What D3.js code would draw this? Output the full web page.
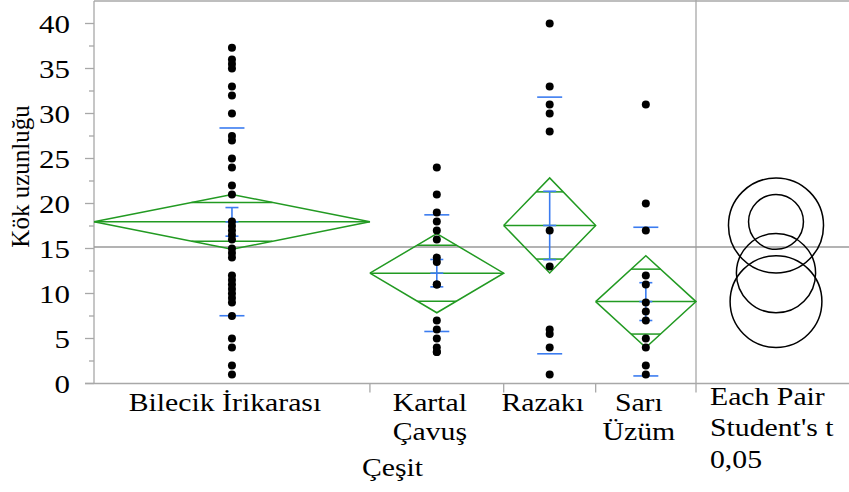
<!DOCTYPE html>
<html>
<head>
<meta charset="utf-8">
<script src="https://cdn.jsdelivr.net/npm/d3@7"></script>
<style>
  body { margin: 0; background: #fff; }
  svg { display: block; }
</style>
</head>
<body>
<svg id="chart" width="849" height="492" font-family="'Liberation Serif', 'Times New Roman', Times, 'DejaVu Serif', serif"></svg>
<script>
// Root length (Kök uzunluğu) by grape variety (Çeşit)
const categories = ["Bilecik İrikarası", "Kartal Çavuş", "Razakı", "Sarı Üzüm"];
const categoryLines = [["Bilecik İrikarası"], ["Kartal", "Çavuş"], ["Razakı"], ["Sarı", "Üzüm"]];
const groupN = [33, 16, 11, 12];

// Observations per variety
const bilecikValues = [37.3, 36, 35.5, 35, 33, 32, 30, 27.5, 27, 25, 24, 22, 21, 18, 17.5, 17, 16.5,
                       16, 15, 14.5, 14, 12, 11.5, 11, 10.5, 10, 9.5, 9, 7.5, 5, 4, 2, 1];
const kartalValues  = [24, 21, 19, 18, 17, 16, 14, 13.5, 11, 11, 7, 6, 5, 4, 3.5, 3.5];
const razakiValues  = [40, 33, 31, 30, 28, 17, 13, 6, 5.5, 4, 1];
const sariValues    = [31, 20, 17, 12, 11, 9, 8, 7, 5, 4, 2, 1];
const groupValues = [bilecikValues, kartalValues, razakiValues, sariValues];

// Group summaries (means diamonds, std error bars, std dev lines)
const groupMeans  = [17.96, 12.26, 17.56, 9.1];
const groupStdDev = [10.43, 6.48, 14.26, 8.26];
const groupStdErr = [1.59, 1.52, 3.8, 2.1];
const groupCI95   = [3.05, 4.4, 5.28, 5.1];

const yTicks = [0, 5, 10, 15, 20, 25, 30, 35, 40];
const yMinorTicks = [2.5, 7.5, 12.5, 17.5, 22.5, 27.5, 32.5, 37.5];
const compareLabel = ["Each Pair", "Student's t", "0,05"];
const xTitle = "Çeşit";
const yTitle = "Kök uzunluğu";

const svg = d3.select("#chart");
const green = "#229a22", blue = "#3b7cf0", frame = "#a8a8a8", meanGray = "#9a9a9a";
const plotL = 94, plotR = 696, plotT = 1, plotB = 383.5, panelR = 849;
const stretch = 1.19;

const y = d3.scaleLinear().domain([0, 42.5]).range([plotB, plotT]);
const totalN = d3.sum(groupN);
const x = d3.scaleLinear().domain([0, totalN]).range([plotL, plotR]);
const cum = [0];
groupN.forEach(n => cum.push(cum[cum.length - 1] + n));
const groups = categories.map((c, i) => ({
  name: c, i,
  x0: x(cum[i]), x1: x(cum[i + 1]), xc: x((cum[i] + cum[i + 1]) / 2),
  mean: groupMeans[i], sd: groupStdDev[i], se: groupStdErr[i], ci: groupCI95[i],
  values: groupValues[i]
}));
const grandMean = d3.sum(groups, g => g.mean * groupN[g.i]) / totalN;

// frame
const fr = svg.append("g").attr("stroke", frame).attr("stroke-width", 1.3).attr("fill", "none");
fr.append("line").attr("x1", plotL).attr("x2", panelR).attr("y1", plotT).attr("y2", plotT);
fr.append("line").attr("x1", plotL).attr("x2", plotL).attr("y1", plotT).attr("y2", plotB);
fr.append("line").attr("x1", plotR).attr("x2", plotR).attr("y1", 0).attr("y2", plotB + 9);
fr.append("line").attr("x1", 85).attr("x2", panelR).attr("y1", plotB).attr("y2", plotB);
groups.slice(0, -1).forEach(g => {
  fr.append("line").attr("x1", g.x1).attr("x2", g.x1).attr("y1", plotB).attr("y2", plotB + 9);
});

// y axis ticks and labels
const ax = svg.append("g");
yTicks.forEach(t => {
  ax.append("line").attr("x1", 85).attr("x2", plotL).attr("y1", y(t)).attr("y2", y(t))
    .attr("stroke", frame).attr("stroke-width", 1.3);
  ax.append("text")
    .attr("transform", `translate(70,${y(t) + 9}) scale(${stretch},1)`)
    .attr("text-anchor", "end")
    .attr("font-size", 26).text(t);
});
yMinorTicks.forEach(t => {
  ax.append("line").attr("x1", 89).attr("x2", plotL).attr("y1", y(t)).attr("y2", y(t))
    .attr("stroke", frame).attr("stroke-width", 1.3);
});
svg.append("text")
  .attr("transform", `translate(29,${y(23)}) rotate(-90)`)
  .attr("text-anchor", "middle").attr("font-size", 25).text(yTitle);

// grand mean
svg.append("line").attr("x1", plotL).attr("x2", panelR)
  .attr("y1", y(grandMean)).attr("y2", y(grandMean))
  .attr("stroke", meanGray).attr("stroke-width", 1.5);

// means diamonds
const dg = svg.append("g").attr("stroke", green).attr("stroke-width", 1.5).attr("fill", "none");
groups.forEach(g => {
  dg.append("path").attr("d", d3.line()([
    [g.x0, y(g.mean)], [g.xc, y(g.mean + g.ci)], [g.x1, y(g.mean)], [g.xc, y(g.mean - g.ci)], [g.x0, y(g.mean)]
  ]));
  dg.append("line").attr("x1", g.x0).attr("x2", g.x1).attr("y1", y(g.mean)).attr("y2", y(g.mean));
  const h = g.ci / Math.SQRT2;
  const hw = (g.x1 - g.x0) / 2 * (1 - h / g.ci);
  [g.mean + h, g.mean - h].forEach(v => {
    dg.append("line").attr("x1", g.xc - hw).attr("x2", g.xc + hw).attr("y1", y(v)).attr("y2", y(v));
  });
});

// std error bars and std dev lines
const bg = svg.append("g").attr("stroke", blue).attr("stroke-width", 1.6);
groups.forEach(g => {
  bg.append("line").attr("x1", g.xc).attr("x2", g.xc).attr("y1", y(g.mean + g.se)).attr("y2", y(g.mean - g.se));
  [g.mean + g.se, g.mean, g.mean - g.se].forEach(v => {
    bg.append("line").attr("x1", g.xc - 6.5).attr("x2", g.xc + 6.5).attr("y1", y(v)).attr("y2", y(v));
  });
  [g.mean + g.sd, g.mean - g.sd].forEach(v => {
    bg.append("line").attr("x1", g.xc - 12.5).attr("x2", g.xc + 12.5).attr("y1", y(v)).attr("y2", y(v));
  });
});

// observations
const pg = svg.append("g");
groups.forEach(g => {
  pg.selectAll(null).data(g.values).join("circle")
    .attr("cx", g.xc).attr("cy", d => y(d)).attr("r", 4).attr("fill", "#000");
});

// comparison circles
const circleX = 776;
const cg = svg.append("g").attr("fill", "none").attr("stroke", "#000").attr("stroke-width", 1.5);
groups.forEach(g => {
  cg.append("circle").attr("cx", circleX).attr("cy", y(g.mean))
    .attr("r", y(0) - y(g.ci));
});

// category labels
const lineBase = [411, 440];
groups.forEach(g => {
  categoryLines[g.i].forEach((t, k) => {
    svg.append("text")
      .attr("transform", `translate(${g.xc - 7},${lineBase[k]}) scale(${stretch},1)`)
      .attr("text-anchor", "middle").attr("font-size", 25).text(t);
  });
});
svg.append("text").attr("transform", `translate(362,476) scale(${stretch},1)`)
  .attr("font-size", 25).text(xTitle);
const cmpBase = [405, 436, 468];
compareLabel.forEach((t, k) => {
  svg.append("text").attr("transform", `translate(710,${cmpBase[k]}) scale(${stretch},1)`)
    .attr("font-size", 25).text(t);
});
</script>
</body>
</html>
